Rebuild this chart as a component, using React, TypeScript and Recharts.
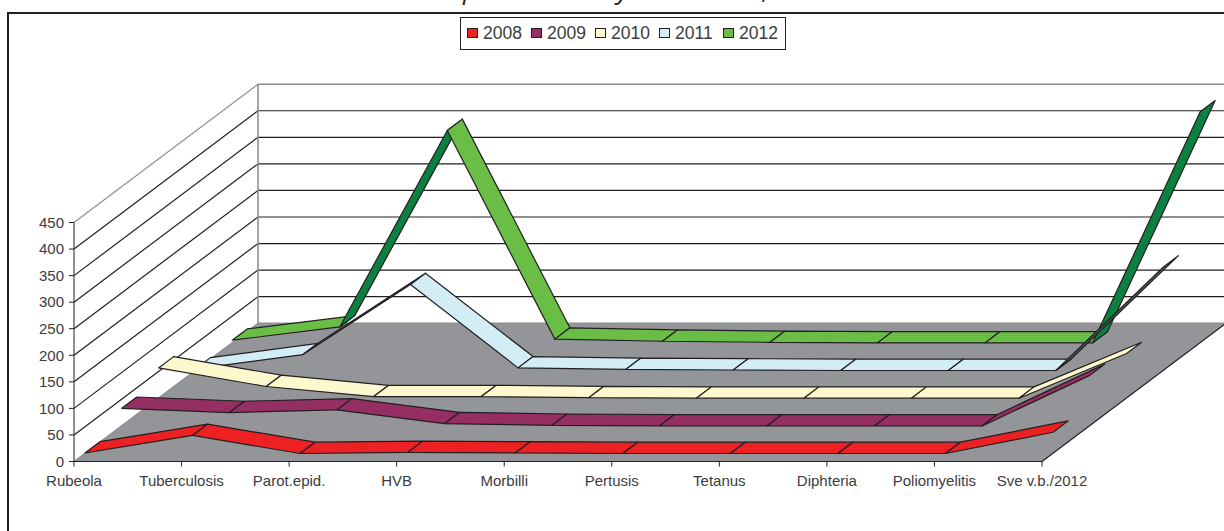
import React from "react";
import { ComposedChart, Line, XAxis, YAxis, CartesianGrid, Legend } from "recharts";

const categories = ["Rubeola", "Tuberculosis", "Parot.epid.", "HVB", "Morbilli", "Pertusis", "Tetanus", "Diphteria", "Poliomyelitis", "Sve v.b./2012"];
const years = ["2008", "2009", "2010", "2011", "2012"];
const v2008 = [1, 34, 0, 2, 1, 0, 0, 0, 0, 40];
const v2009 = [33, 25, 30, 4, 1, 0, 0, 0, 0, 95];
const v2010 = [57, 22, 3, 3, 1, 0, 0, 0, 0, 84];
const v2011 = [3, 30, 162, 5, 2, 1, 0, 0, 0, 195];
const v2012 = [5, 30, 400, 7, 3, 1, 0, 0, 0, 435];
const yTicks = [0, 50, 100, 150, 200, 250, 300, 350, 400, 450];
const titleFragments = [
  { text: "p", x: 463 },
  { text: "y", x: 617 },
  { text: ",", x: 763 },
];

const seriesValues = [v2008, v2009, v2010, v2011, v2012];
const topColors = ["#ed2024", "#952f63", "#fdf8cd", "#d2edf5", "#6abd45"];
const underColors = ["#b5161b", "#7a2350", "#d8d2a0", "#4f5d63", "#0b8040"];

const data = categories.map((name, i) => {
  const row: Record<string, string | number> = { name };
  years.forEach((y, s) => { row[y] = seriesValues[s][i]; });
  return row;
});

const W = 1224, H = 531;
const DEPTH_X = 184, DEPTH_Y = 138.3;
const SLOT_X = DEPTH_X / 5, SLOT_Y = DEPTH_Y / 5;
const INSET_X = 11, INSET_Y = 8;
const RIBBON_X = 15, RIBBON_Y = 11.3;
const INK = "#231f20";
const WALL = "#8f8f91";
const FLOOR = "#939598";
const TEXT = "#3c3c3e";

function makeRibbonDot(s: number) {
  const ox = INSET_X + SLOT_X * s;
  const oy = INSET_Y + SLOT_Y * s;
  let prev: { x: number; y: number } | null = null;
  return (props: any) => {
    const { cx, cy, index } = props;
    const p = { x: cx + ox, y: cy - oy };
    const last = index === 0 ? null : prev;
    prev = p;
    if (!last) return <g key={`r${s}-${index}`} />;
    const dx = p.x - last.x, dy = p.y - last.y;
    const under = dx * -RIBBON_Y - dy * RIBBON_X > 0;
    const pts = [
      [last.x, last.y], [p.x, p.y],
      [p.x + RIBBON_X, p.y - RIBBON_Y], [last.x + RIBBON_X, last.y - RIBBON_Y],
    ].map((q) => q.join(",")).join(" ");
    return (
      <polygon key={`r${s}-${index}`} points={pts} fill={under ? underColors[s] : topColors[s]}
        stroke={INK} strokeWidth={1.2} strokeLinejoin="round" />
    );
  };
}

function wallLine(props: any) {
  const { x1, x2, y1, y2, index } = props;
  const isBottom = Math.abs(y1 - 461.5) < 1;
  const isTop = Math.abs(y1 - 222.5) < 1;
  const backX = x1 + DEPTH_X, backY = y1 - DEPTH_Y;
  const col = isBottom || isTop ? WALL : INK;
  return (
    <g key={`wall-${index}`}>
      {isBottom && (
        <polygon fill={FLOOR}
          points={`${x1},${y1} ${backX},${backY} ${x2 + DEPTH_X},${backY} ${x2},${y2}`} />
      )}
      {isBottom && <line x1={x2} y1={y2} x2={x2 + DEPTH_X} y2={backY} stroke={INK} strokeWidth={1.2} />}
      {isTop && <line x1={backX} y1={backY} x2={backX} y2={backY + 239} stroke={WALL} strokeWidth={1.6} />}
      <line x1={x1} y1={y1} x2={backX} y2={backY} stroke={col} strokeWidth={1.2} />
      <line x1={backX} y1={backY} x2={W} y2={backY} stroke={col} strokeWidth={isTop || isBottom ? 1.6 : 1.2} />
    </g>
  );
}

function LegendBox(props: any) {
  const items: any[] = props.payload || [];
  const ordered = [...items].sort((a, b) => String(a.value).localeCompare(String(b.value)));
  return (
    <div style={{ position: "relative", boxSizing: "border-box", width: 326, height: 33, border: `1px solid ${INK}`, background: "#fff" }}>
      {ordered.map((it, i) => (
        <React.Fragment key={it.value}>
          <span style={{ position: "absolute", left: 6 + i * 64, top: 10, width: 11, height: 10, boxSizing: "border-box", background: topColors[i], border: `1px solid ${INK}` }} />
          <span style={{ position: "absolute", left: 22 + i * 64, top: 4, fontFamily: "Liberation Sans", fontSize: 17.5, lineHeight: "22px", color: TEXT }}>{it.value}</span>
        </React.Fragment>
      ))}
    </div>
  );
}

export default function App() {
  const order = [4, 3, 2, 1, 0];
  return (
    <div style={{ position: "absolute", left: 0, top: 0, width: W, height: H, overflow: "hidden", background: "#fff" }}>
      <div style={{ position: "absolute", left: 7, top: 12, width: W, height: H, borderLeft: `2px solid ${INK}`, borderTop: `2px solid ${INK}` }} />
      <svg width={W} height={12} style={{ position: "absolute", left: 0, top: 0 }}>
        {titleFragments.map((f) => (
          <text key={f.x} x={f.x} y={-1} fontFamily="Open Sans" fontStyle="italic" fontSize={26} fill="#231f20">{f.text}</text>
        ))}
      </svg>
      <ComposedChart width={W} height={H} data={data} margin={{ top: 222.5, right: 182, bottom: 0, left: 0 }}>
        <CartesianGrid horizontal={wallLine} vertical={false} />
        <XAxis dataKey="name" scale="point" padding={{ left: 0, right: 0 }} height={69.5} interval={0}
          tick={{ fontFamily: "Liberation Sans", fontSize: 15, fill: TEXT }}
          tickSize={5} tickMargin={9} stroke={INK} />
        <YAxis domain={[0, 450]} ticks={yTicks} width={74} interval={0}
          tick={{ fontFamily: "Liberation Sans", fontSize: 15, fill: TEXT }}
          tickSize={5} tickMargin={5} stroke={INK} />
        {order.map((s) => (
          <Line key={years[s]} dataKey={years[s]} name={years[s]} stroke={topColors[s]} strokeOpacity={0}
            dot={makeRibbonDot(s)} activeDot={false} legendType="square" isAnimationActive={false} />
        ))}
        <Legend layout="horizontal" verticalAlign="middle" align="center" content={LegendBox}
          wrapperStyle={{ left: 460, top: 17, width: 326 }} />
      </ComposedChart>
    </div>
  );
}
